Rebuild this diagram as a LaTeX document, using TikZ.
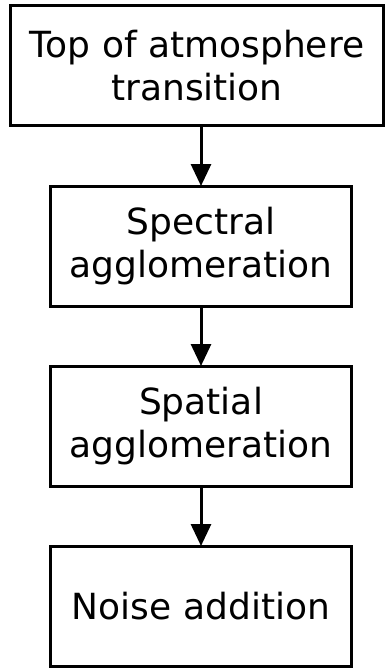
\documentclass[tikz,border=0pt]{standalone}
\usepackage{fontspec}
\setmainfont{DejaVu Sans}
\usetikzlibrary{positioning,arrows.meta}

\tikzset{
  stage/.style={draw, line width=3pt, outer sep=0pt, minimum width=301pt, minimum height=120pt, align=center, inner sep=0pt, font=\fontsize{36}{43}\selectfont},
  flow/.style={line width=3pt, -{Triangle[length=22pt,width=20pt]}}
}

\begin{document}
\begin{tikzpicture}
\useasboundingbox (0,0) rectangle (385pt,-669pt);
\node[stage, minimum width=373pt] (toa) at (197pt,-65.5pt) {Top of atmosphere\\transition};
\node[stage] (spec) at (201pt,-246pt) {Spectral\\agglomeration};
\node[stage, below=60pt of spec] (spat) {Spatial\\agglomeration};
\node[stage, below=60pt of spat] (noise) {Noise addition};
\draw[flow] (toa.south -| spec.north) -- (spec.north);
\draw[flow] (spec) -- (spat);
\draw[flow] (spat) -- (noise);
\end{tikzpicture}
\end{document}
